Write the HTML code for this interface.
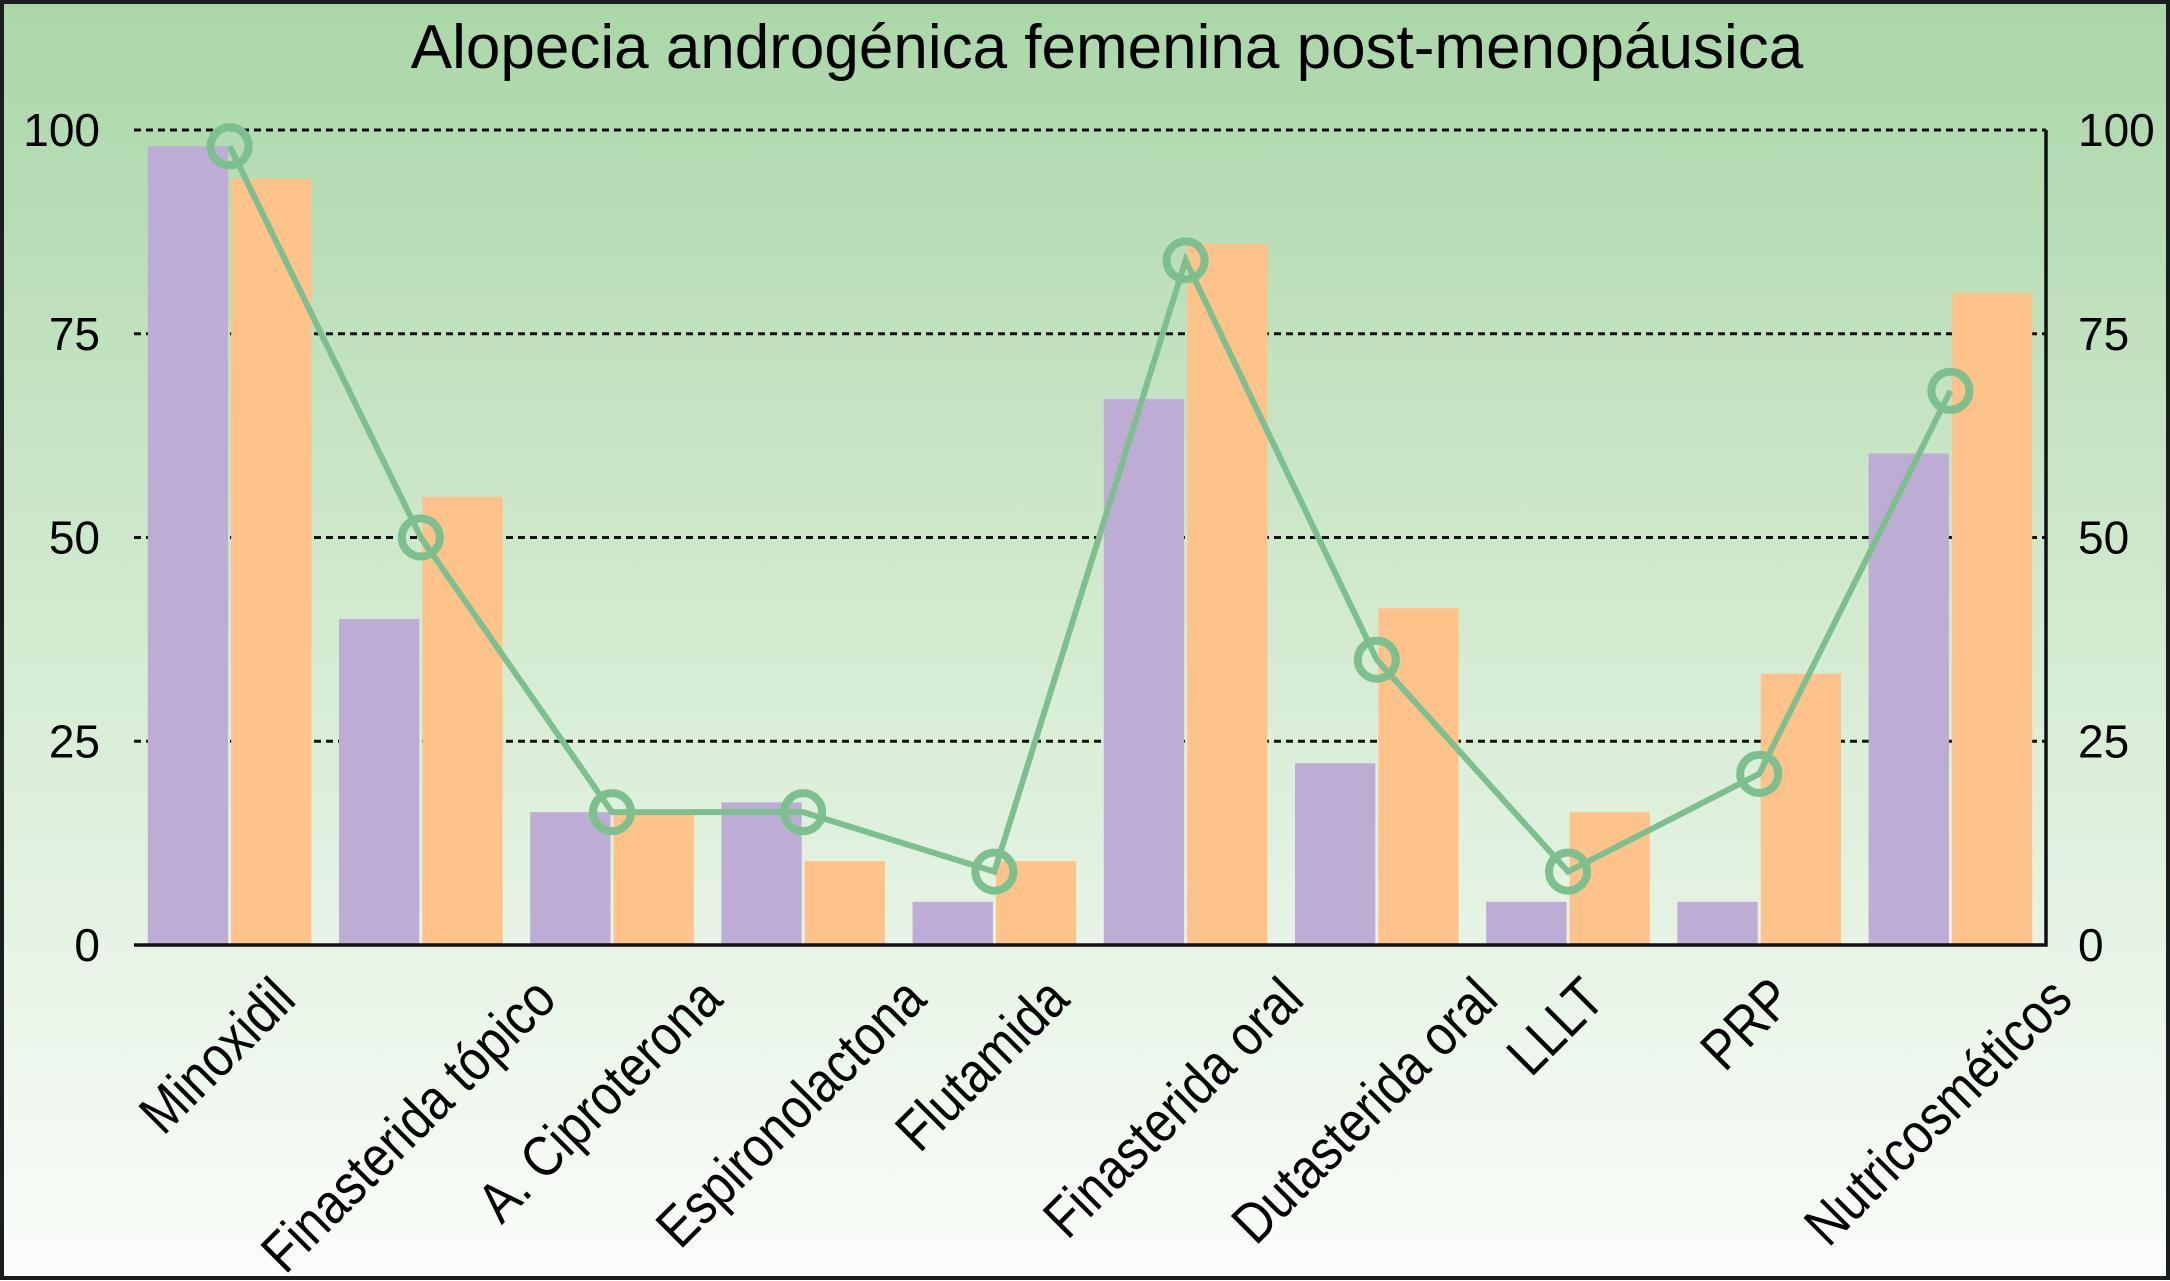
<!DOCTYPE html>
<html><head><meta charset="utf-8"><style>
html,body{margin:0;padding:0;width:2170px;height:1281px;overflow:hidden}
svg{display:block}
text{font-family:"Liberation Sans",Arial,sans-serif;fill:#000}
</style></head><body>
<svg id="chart" width="2170" height="1281">
<defs><linearGradient id="bg" x1="0" y1="0" x2="0" y2="1">
<stop offset="0" stop-color="#aad7a8"/><stop offset="0.5" stop-color="#d4ebd2"/><stop offset="1" stop-color="#fbfdfa"/></linearGradient></defs>
<rect x="2" y="2" width="2166" height="1276" fill="url(#bg)" stroke="#1a1e1e" stroke-width="4"/>
<text x="1107" y="68" font-size="62" text-anchor="middle">Alopecia androgénica femenina post-menopáusica</text>
<g id="grid"></g><g id="bars"></g><g id="axes"></g><g id="line"></g><g id="labels"></g>
</svg>
<script>
const categories=["Minoxidil","Finasterida tópico","A. Ciproterona","Espironolactona","Flutamida","Finasterida oral","Dutasterida oral","LLLT","PRP","Nutricosméticos"];
const purpleValues=[98,40,16.3,17.5,5.3,67,22.3,5.3,5.3,60.3];
const orangeValues=[94,55,16.3,10.3,10.3,86,41.3,16.3,33.3,80];
const lineValues=[98,50,16.3,16.3,9,84,35,9,21,68];
const ticks=[0,25,50,75,100];
const NS="http://www.w3.org/2000/svg";
const L=134,R=2046,T=130,B=945;
const y=v=>B-(B-T)*v/100;
const step=(R-L)/categories.length;
const cx=i=>L+step*(i+0.5);
function mk(tag,attrs,parent){const e=document.createElementNS(NS,tag);for(const k in attrs)e.setAttribute(k,attrs[k]);document.getElementById(parent).appendChild(e);return e;}
ticks.forEach(t=>{
 if(t>0){const g=mk('line',{x1:L,x2:R,y1:y(t),y2:y(t),stroke:'#111','stroke-width':3,'stroke-dasharray':'7 5'},'grid');
 
 }
 const a=mk('text',{x:100,y:y(t)+16,'font-size':46,'text-anchor':'end'},'labels');a.textContent=t;
 
 
 const b=mk('text',{x:2078,y:y(t)+16,'font-size':46},'labels');b.textContent=t;
 
 
});
const bw=step*0.42,gap=3;
const SX=0.86;
categories.forEach((c,i)=>{
 const p=mk('rect',{x:cx(i)-gap/2-bw,y:y(purpleValues[i]),width:bw,height:B-y(purpleValues[i]),fill:'#bdadd4'},'bars');
 
 
 const o=mk('rect',{x:cx(i)+gap/2,y:y(orangeValues[i]),width:bw,height:B-y(orangeValues[i]),fill:'#fdc38a'},'bars');
 
 
 const t=mk('text',{x:0,y:0,'font-size':57,'text-anchor':'end'},'labels');t.textContent=c;
 
 
 const len=t.getComputedTextLength()*SX;
 const tx=cx(i)+0.354*len+1,ty=1002;
 t.setAttribute('transform',`translate(${tx} ${ty}) rotate(-45) scale(${SX} 1)`);
});
const ax=mk('path',{d:`M${L},${B}H${R}V${T}`,fill:'none',stroke:'#111','stroke-width':3.5},'axes');


const pl=mk('polyline',{points:lineValues.map((v,i)=>cx(i)+','+y(v)).join(' '),fill:'none',stroke:'#7dbf8e','stroke-width':6},'line');


lineValues.forEach((v,i)=>{
 const c=mk('circle',{cx:cx(i),cy:y(v),r:19,fill:'none',stroke:'#7dbf8e','stroke-width':8},'line');
 
 
});
</script>
</body></html>
